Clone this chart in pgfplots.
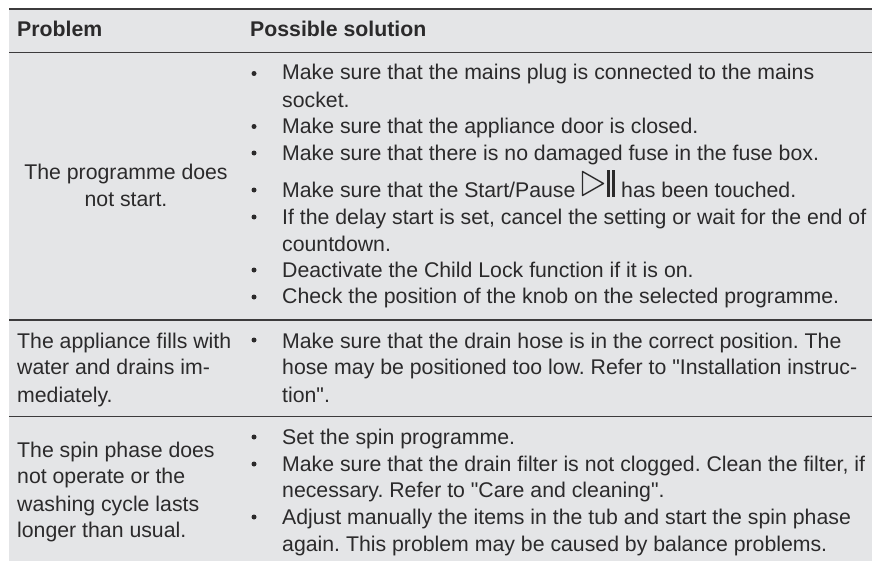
\documentclass[border=0pt]{standalone}
\usepackage{pgfplots}
\pgfplotsset{compat=1.18}
\usepackage{fontspec}
\setmainfont{Liberation Sans}
\frenchspacing
\definecolor{panel}{HTML}{E4E5E7}
\definecolor{ink}{HTML}{2B2A2B}
\definecolor{rule}{HTML}{3C3B3C}
\newcommand{\T}[3]{\node[anchor=base west,inner sep=0pt,text=ink] at (axis cs:#1,#2) {\fontsize{21.27bp}{24bp}\selectfont\strut #3};}
\newcommand{\C}[3]{\node[anchor=base,inner sep=0pt,text=ink] at (axis cs:#1,#2) {\fontsize{21.27bp}{24bp}\selectfont\strut #3};}
\newcommand{\B}[1]{\node[anchor=center,circle,fill=ink,inner sep=0pt,minimum size=5bp] at (axis cs:254,#1) {};}
\begin{document}
\begin{tikzpicture}
\begin{axis}[
  scale only axis, width=872bp, height=561bp,
  xmin=0, xmax=872, ymin=0, ymax=561, y dir=reverse,
  hide axis, clip=true,
]
\addplot[draw=none,fill=white] coordinates {(0,0) (872,0) (872,561) (0,561)} -- cycle;
\addplot[draw=none,fill=panel] coordinates {(9,9) (872,9) (872,561) (9,561)} -- cycle;
\addplot[rule,line width=2.4bp] coordinates {(9,9) (872,9)};
\addplot[rule,line width=1.2bp] coordinates {(9,52.3) (872,52.3)};
\addplot[rule,line width=1.8bp] coordinates {(9,319.7) (872,319.7)};
\addplot[rule,line width=1.2bp] coordinates {(9,416.5) (872,416.5)};
% Start/Pause symbol
\addplot[ink,line width=1.4bp,line join=round] coordinates {(582.5,171.5) (603.5,183.5) (582.5,195.5)} -- cycle;
\addplot[ink,line width=3bp] coordinates {(608.3,170) (608.3,196.5)};
\addplot[ink,line width=2.6bp] coordinates {(613.6,170) (613.6,196.5)};
% header
\node[anchor=base west,inner sep=0pt,text=ink] at (axis cs:17,37) {\fontsize{21.27bp}{24bp}\selectfont\bfseries Problem};
\node[anchor=base west,inner sep=0pt,text=ink] at (axis cs:250,37) {\fontsize{21.27bp}{24bp}\selectfont\bfseries Possible solution};
% left column
\C{126}{179}{The programme does}
\C{126}{206}{not start.}
\T{17}{348}{The appliance fills with}
\T{17}{374}{water and drains im-}
\T{17}{402}{mediately.}
\T{17}{457}{The spin phase does}
\T{17}{483}{not operate or the}
\T{17}{511}{washing cycle lasts}
\T{17}{537}{longer than usual.}
% right column
\B{73.5}\T{282}{80}{Make sure that the mains plug is connected to the mains}
\T{282}{107}{socket.}
\B{126.5}\T{282}{133}{Make sure that the appliance door is closed.}
\B{153}\T{282}{160}{Make sure that there is no damaged fuse in the fuse box.}
\B{190}\T{282}{197}{Make sure that the Start/Pause}
\T{621}{197}{has been touched.}
\B{217}\T{282}{224}{If the delay start is set, cancel the setting or wait for the end of}
\T{282}{251}{countdown.}
\B{270}\T{282}{277}{Deactivate the Child Lock function if it is on.}
\B{297}\T{282}{303}{Check the position of the knob on the selected programme.}
\B{340}\T{282}{348}{Make sure that the drain hose is in the correct position. The}
\T{282}{374}{hose may be positioned too low. Refer to \textquotedbl Installation instruc-}
\T{282}{402}{tion\textquotedbl.}
\B{437}\T{282}{444}{Set the spin programme.}
\B{464}\T{282}{471}{Make sure that the drain filter is not clogged. Clean the filter, if}
\T{282}{497}{necessary. Refer to \textquotedbl Care and cleaning\textquotedbl.}
\B{517}\T{282}{524}{Adjust manually the items in the tub and start the spin phase}
\T{282}{551}{again. This problem may be caused by balance problems.}
\end{axis}
\end{tikzpicture}
\end{document}
